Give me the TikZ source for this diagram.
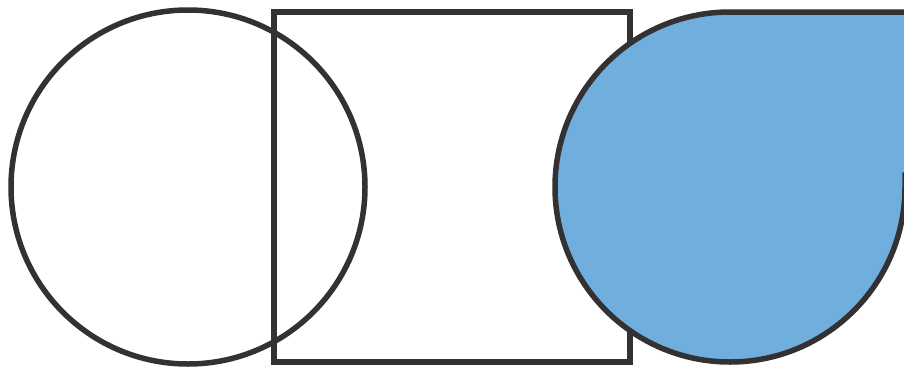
\documentclass[tikz,border=0pt]{standalone}
\definecolor{edge}{HTML}{333132}
\definecolor{dropblue}{HTML}{70AEDD}
\tikzset{outline/.style={draw=edge,line width=5.5pt}}
\begin{document}
\begin{tikzpicture}[x=1pt,y=-1pt]
\useasboundingbox (0,0) rectangle (904,367);
\clip (0,0) rectangle (904,367);
\draw[outline] (188,187) circle[radius=177];
\draw[outline] (274,12) rectangle (630,362);
\draw[outline,fill=dropblue] (730,12) arc[start angle=-90,end angle=-270,radius=175]
  arc[start angle=90,end angle=0,radius=175] -- (905,175) -- (915,175) -- (915,12) -- cycle;
\end{tikzpicture}
\end{document}
